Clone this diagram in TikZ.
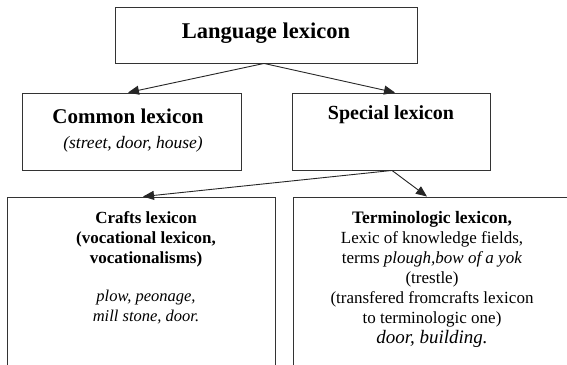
\documentclass[tikz,border=0pt]{standalone}
\usepackage{fontspec}
\setmainfont{Liberation Serif}
\usetikzlibrary{arrows.meta}
\newcommand\tightlines{\lineskiplimit=-30pt\relax\lineskip=0pt\relax}
\begin{document}
\begin{tikzpicture}[x=1pt,y=-1pt,
  box/.style={draw=black!80,line width=0.9pt,rectangle,inner sep=0pt},
  conn/.style={draw=black!85,line width=0.9pt,-{Triangle[length=11pt,width=9pt]}},
  head/.style={font=\bfseries,inner sep=0pt},
  sub/.style={font=\fontsize{17}{20}\selectfont\tightlines,align=center,inner sep=0pt,anchor=north}
]
\useasboundingbox (0,0) rectangle (567,364);
\fill[white] (0,0) rectangle (567,364);
% boxes
\node[box,minimum width=302pt,minimum height=56pt] (lang) at (266,35) {};
\node[box,minimum width=219pt,minimum height=77pt] (common) at (131.5,131.5) {};
\node[box,minimum width=198pt,minimum height=77pt] (special) at (391,131.5) {};
\node[box,minimum width=268pt,minimum height=183pt] (crafts) at (141,288.5) {};
\node[box,minimum width=287pt,minimum height=183pt] (term) at (436.5,288.5) {};
% texts
\node[head,font=\fontsize{22.5}{26}\selectfont\bfseries] (langT) at (266,33) {Language lexicon};
\node[head,font=\fontsize{21}{26}\selectfont\bfseries] (commonT) at (128,116) {Common lexicon};
\node[inner sep=0pt,font=\fontsize{17.5}{20}\selectfont\itshape] (commonI) at (133,144) {(street, door, house)};
\node[head,font=\fontsize{20}{24}\selectfont\bfseries] (specialT) at (391,115) {Special lexicon};
\node[sub] (craftsT) at (146,211) {\textbf{Crafts lexicon}\\ \textbf{(vocational lexicon,}\\ \textbf{vocationalisms)}\\[18pt] {\fontsize{16.5}{20}\selectfont\itshape plow, peonage,}\\ {\fontsize{16.5}{20}\selectfont\itshape mill stone, door.}};
\node[sub] (termT) at (432,211) {{\fontsize{17.5}{20}\selectfont\bfseries Terminologic lexicon,}\\ Lexic of knowledge fields,\\ terms \textit{plough,bow of a yok}\\ (trestle)\\ (transfered fromcrafts lexicon\\ to terminologic one)\\ {\fontsize{19}{20}\selectfont\itshape door, building.}};
% connectors
\coordinate (lb) at ([xshift=-2pt]lang.south);
\coordinate (sb) at ([xshift=1pt]special.south);
\draw[conn] (lb) -- ([xshift=-3.5pt]common.north);
\draw[conn] (lb) -- ([xshift=4pt]special.north);
\draw[conn] (sb) -- ([xshift=2pt]crafts.north);
\draw[conn] (sb) -- ([xshift=-9.5pt]term.north);
\end{tikzpicture}
\end{document}
